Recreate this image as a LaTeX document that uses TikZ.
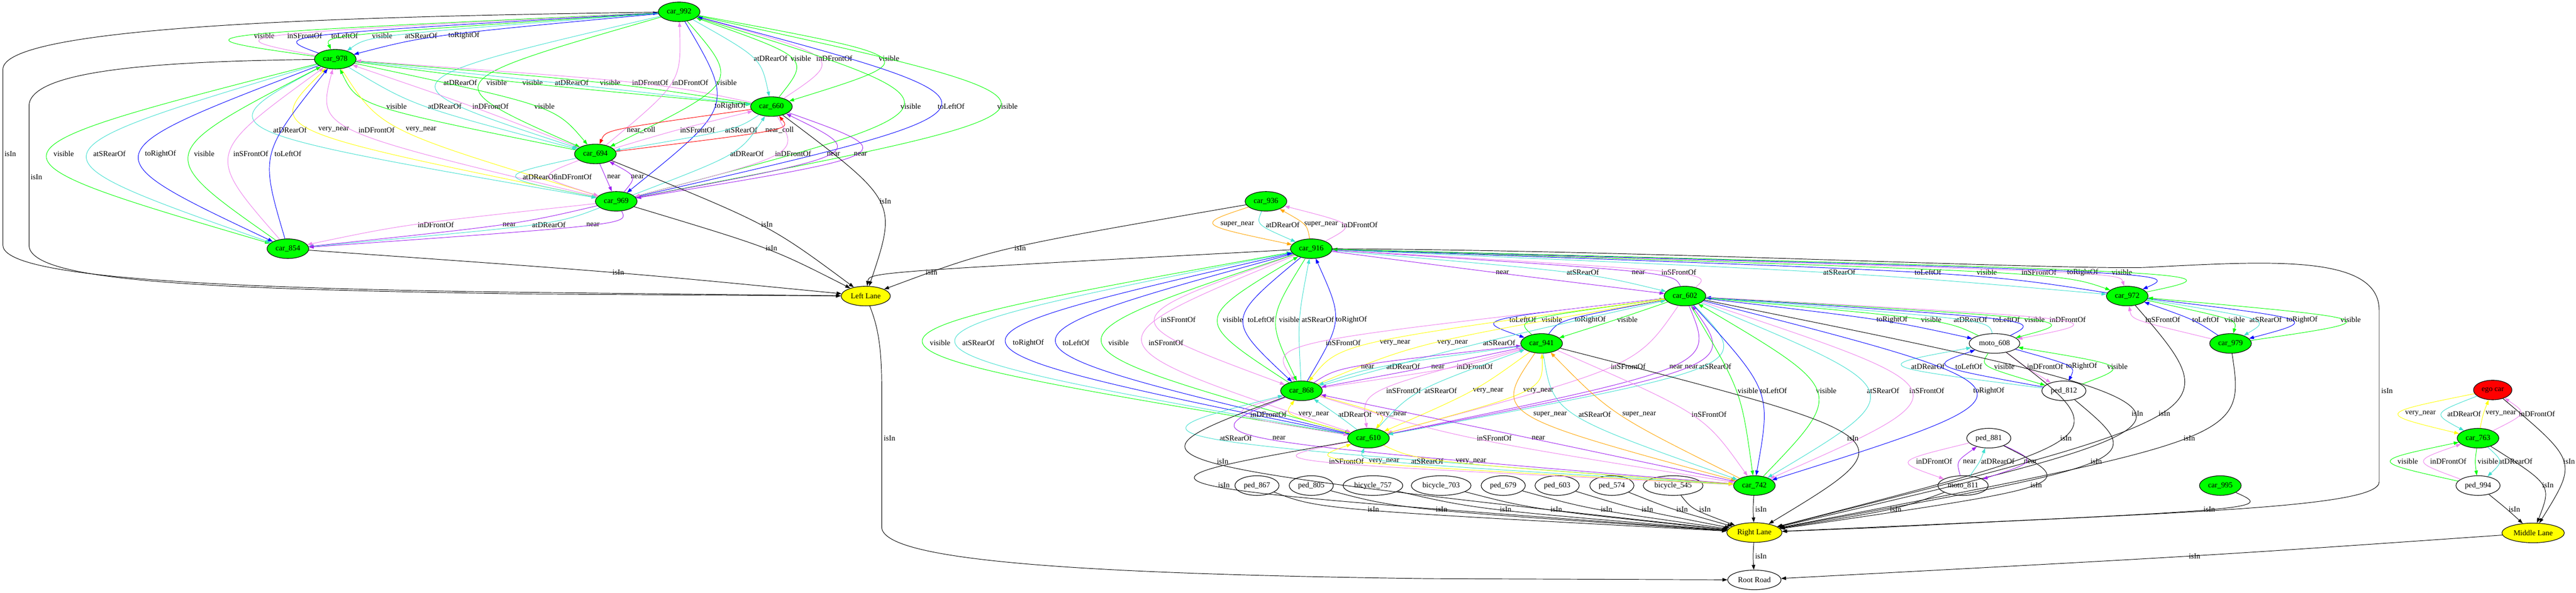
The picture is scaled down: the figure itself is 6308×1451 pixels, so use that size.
\documentclass[tikz,border=0pt]{standalone}
\usepackage{fontspec}
\setmainfont{Liberation Serif}
\usetikzlibrary{shapes.geometric,arrows.meta,calc}
\definecolor{cvis}{RGB}{0,255,0}
\definecolor{cturq}{RGB}{64,224,208}
\definecolor{cblue}{RGB}{0,0,255}
\definecolor{cviol}{RGB}{238,130,238}
\definecolor{cpurp}{RGB}{160,32,240}
\definecolor{cyel}{RGB}{255,255,0}
\definecolor{corng}{RGB}{255,165,0}
\definecolor{cred}{RGB}{255,0,0}
\newcommand\Lvis{visible}
\newcommand\LaDR{atDRearOf}
\newcommand\LaSR{atSRearOf}
\newcommand\LiDF{inDFrontOf}
\newcommand\LiSF{inSFrontOf}
\newcommand\LtLO{toLeftOf}
\newcommand\LtRO{toRightOf}
\newcommand\Lnr{near}
\newcommand\Lvnr{very\_near}
\newcommand\Lsnr{super\_near}
\newcommand\Lncl{near\_coll}
\newcommand\LisIn{isIn}
\newcount\ecnt
\newcommand\Edg[5]{%
  \global\advance\ecnt by 1
  \node[lab] (lb\the\ecnt) at (#4,#5) {\csname L#1\endcsname};
  \coordinate (wp\the\ecnt) at ($(lb\the\ecnt.west)+(-4,0)$);
  \coordinate (cp\the\ecnt) at ($1.3333*(wp\the\ecnt)-0.1667*(#2)-0.1667*(#3)$);
  \draw[rel,r#1] (#2) .. controls (cp\the\ecnt) and (cp\the\ecnt) .. (#3);
}
\tikzset{
  base/.style={ellipse,draw=black,line width=1.4pt,inner xsep=6pt,inner ysep=2pt,minimum height=48pt,font=\fontsize{18.7}{20}\selectfont},
  car/.style={base,fill=cvis},
  lane/.style={base,fill=cyel},
  ego/.style={base,fill=cred},
  obj/.style={base,fill=white},
  lab/.style={inner sep=0pt,font=\fontsize{18.7}{20}\selectfont},
  rel/.style={line width=1.2pt,-{Triangle[length=12pt,width=8.5pt]}},
  rvis/.style={draw=cvis},
  raDR/.style={draw=cturq}, raSR/.style={draw=cturq},
  riDF/.style={draw=cviol}, riSF/.style={draw=cviol},
  rtLO/.style={draw=cblue}, rtRO/.style={draw=cblue},
  rnr/.style={draw=cpurp}, rvnr/.style={draw=cyel}, rsnr/.style={draw=corng},
  rncl/.style={draw=cred}, risIn/.style={draw=black}
}
\begin{document}
\begin{tikzpicture}[x=1pt,y=-1pt]
\useasboundingbox[fill=white] (0,0) rectangle (6308,1451);
% nodes
\node[car] (c992) at (1663,29) {car\_992};
\node[car] (c978) at (821,145) {car\_978};
\node[car] (c660) at (1889,261) {car\_660};
\node[car] (c694) at (1458,377) {car\_694};
\node[car] (c969) at (1509,493) {car\_969};
\node[car] (c854) at (705,609) {car\_854};
\node[lane] (LL) at (2120,725) {Left Lane};
\node[car] (c936) at (3100,493) {car\_936};
\node[car] (c916) at (3211,609) {car\_916};
\node[car] (c602) at (4126,725) {car\_602};
\node[car] (c941) at (3775,841) {car\_941};
\node[car] (c868) at (3187,957) {car\_868};
\node[car] (c610) at (3351,1073) {car\_610};
\node[obj] (p867) at (3078,1189) {ped\_867};
\node[obj] (p805) at (3211,1189) {ped\_805};
\node[obj] (b757) at (3362,1189) {bicycle\_757};
\node[obj] (b703) at (3529,1189) {bicycle\_703};
\node[obj] (p679) at (3681,1189) {ped\_679};
\node[obj] (p603) at (3813,1189) {ped\_603};
\node[obj] (p574) at (3947,1189) {ped\_574};
\node[obj] (b545) at (4097,1189) {bicycle\_545};
\node[car] (c742) at (4296,1189) {car\_742};
\node[lane] (RL) at (4296,1304) {Right Lane};
\node[obj] (RR) at (4296,1420) {Root Road};
\node[car] (c972) at (5209,725) {car\_972};
\node[car] (c979) at (5462,841) {car\_979};
\node[obj] (m608) at (4884,841) {moto\_608};
\node[obj] (p812) at (5054,957) {ped\_812};
\node[obj] (p881) at (4870,1073) {ped\_881};
\node[obj] (m811) at (4807,1189) {moto\_811};
\node[car] (c995) at (5437,1189) {car\_995};
\node[ego] (ego) at (6104,955) {ego car};
\node[car] (c763) at (6068,1073) {car\_763};
\node[obj] (p994) at (6068,1189) {ped\_994};
\node[lane] (ML) at (6203,1305) {Middle Lane};
% left cluster
\Edg{vis}{c978}{c992}{647}{87}
\Edg{iSF}{c978}{c992}{746}{87}
\Edg{tLO}{c978}{c992}{844}{87}
\Edg{vis}{c992}{c978}{936}{87}
\Edg{aSR}{c992}{c978}{1031}{87}
\Edg{tRO}{c992}{c978}{1136}{87}
\Edg{aDR}{c992}{c660}{1887}{143}
\Edg{vis}{c660}{c992}{1961}{143}
\Edg{iDF}{c660}{c992}{2043}{143}
\Edg{vis}{c992}{c660}{2177}{143}
\Edg{aDR}{c992}{c694}{1127}{202}
\Edg{vis}{c992}{c694}{1216}{202}
\Edg{vis}{c978}{c660}{1304}{202}
\Edg{aDR}{c978}{c660}{1400}{202}
\Edg{vis}{c660}{c978}{1494}{202}
\Edg{iDF}{c660}{c978}{1592}{202}
\Edg{iDF}{c694}{c992}{1690}{202}
\Edg{vis}{c992}{c694}{1779}{202}
\Edg{vis}{c694}{c978}{971}{260}
\Edg{aDR}{c978}{c694}{1089}{260}
\Edg{iDF}{c694}{c978}{1201}{260}
\Edg{vis}{c978}{c694}{1333}{260}
\Edg{tRO}{c992}{c969}{1788}{260}
\Edg{vis}{c969}{c992}{2230}{260}
\Edg{tLO}{c969}{c992}{2329}{260}
\Edg{vis}{c992}{c969}{2467}{260}
\Edg{aDR}{c978}{c969}{710}{318}
\Edg{vnr}{c969}{c978}{817}{318}
\Edg{iDF}{c969}{c978}{922}{318}
\Edg{vnr}{c978}{c969}{1031}{318}
\Edg{ncl}{c660}{c694}{1570}{318}
\Edg{iSF}{c694}{c660}{1708}{318}
\Edg{aSR}{c660}{c694}{1815}{318}
\Edg{ncl}{c694}{c660}{1909}{318}
\Edg{vis}{c978}{c854}{156}{377}
\Edg{aSR}{c978}{c854}{268}{377}
\Edg{tRO}{c978}{c854}{393}{377}
\Edg{vis}{c854}{c978}{500}{377}
\Edg{iSF}{c854}{c978}{614}{377}
\Edg{tLO}{c854}{c978}{705}{377}
\Edg{aDR}{c969}{c660}{1829}{377}
\Edg{iDF}{c660}{c969}{1942}{377}
\Edg{nr}{c969}{c660}{2041}{377}
\Edg{nr}{c660}{c969}{2107}{377}
\Edg{aDR}{c694}{c969}{1321}{433}
\Edg{iDF}{c694}{c969}{1405}{433}
\Edg{nr}{c694}{c969}{1503}{433}
\Edg{nr}{c969}{c694}{1561}{433}
\Edg{isIn}{c660}{LL}{2168}{493}
\Edg{iDF}{c969}{c854}{1067}{550}
\Edg{nr}{c969}{c854}{1247}{550}
\Edg{aDR}{c969}{c854}{1344}{550}
\Edg{nr}{c969}{c854}{1452}{550}
\Edg{isIn}{c694}{LL}{1878}{550}
\Edg{isIn}{c969}{LL}{1889}{608}
\Edg{isIn}{c854}{LL}{1514}{667}
\node[lab,anchor=west] (lbA) at (11,377) {\LisIn};
\draw[rel,risIn] (c992) .. controls (900,40) and (7,60) .. (7,170) -- (7,600) .. controls (7,670) and (400,705) .. (1300,716) -- (LL);
\node[lab,anchor=west] (lbB) at (75,433) {\LisIn};
\draw[rel,risIn] (c978) .. controls (400,150) and (71,170) .. (71,260) -- (71,600) .. controls (71,690) and (500,708) .. (1300,720) -- (LL);
% middle
\Edg{isIn}{c936}{LL}{2498}{608}
\Edg{isIn}{c916}{LL}{2281}{667}
\Edg{snr}{c936}{c916}{3030}{550}
\Edg{aDR}{c936}{c916}{3141}{550}
\Edg{snr}{c916}{c936}{3235}{550}
\Edg{iDF}{c916}{c936}{3329}{550}
\Edg{nr}{c916}{c602}{3679}{667}
\Edg{aSR}{c916}{c602}{3876}{667}
\Edg{nr}{c602}{c916}{4012}{667}
\Edg{iSF}{c602}{c916}{4111}{667}
\Edg{aSR}{c916}{c972}{4504}{667}
\Edg{tLO}{c972}{c916}{4721}{667}
\Edg{vis}{c916}{c972}{4865}{667}
\Edg{iSF}{c916}{c972}{4993}{667}
\Edg{tRO}{c916}{c972}{5100}{667}
\Edg{vis}{c972}{c916}{5196}{667}
\Edg{iSF}{c916}{c868}{2885}{783}
\Edg{vis}{c868}{c916}{3019}{783}
\Edg{tLO}{c916}{c868}{3088}{783}
\Edg{vis}{c916}{c868}{3157}{783}
\Edg{aSR}{c868}{c916}{3227}{783}
\Edg{tRO}{c868}{c916}{3309}{783}
\Edg{tLO}{c602}{c941}{3729}{783}
\Edg{vis}{c941}{c602}{3800}{783}
\Edg{tRO}{c941}{c602}{3894}{783}
\Edg{vis}{c602}{c941}{3985}{783}
\Edg{tRO}{c602}{m608}{4633}{783}
\Edg{vis}{m608}{c602}{4729}{783}
\Edg{aDR}{m608}{c602}{4825}{783}
\Edg{tLO}{m608}{c602}{4913}{783}
\Edg{vis}{c602}{m608}{4982}{783}
\Edg{iDF}{c602}{m608}{5063}{783}
\Edg{iSF}{c979}{c972}{5296}{783}
\Edg{tLO}{c979}{c972}{5401}{783}
\Edg{vis}{c972}{c979}{5472}{783}
\Edg{aSR}{c972}{c979}{5548}{783}
\Edg{tRO}{c972}{c979}{5637}{783}
\Edg{vis}{c979}{c972}{5756}{783}
\Edg{vis}{c610}{c916}{2302}{840}
\Edg{aSR}{c610}{c916}{2396}{840}
\Edg{tRO}{c610}{c916}{2518}{840}
\Edg{tLO}{c916}{c610}{2635}{840}
\Edg{vis}{c916}{c610}{2739}{840}
\Edg{iSF}{c916}{c610}{2855}{840}
\Edg{iSF}{c602}{c868}{3289}{840}
\Edg{vnr}{c602}{c868}{3416}{840}
\Edg{vnr}{c868}{c602}{3557}{840}
\Edg{aSR}{c868}{c602}{3671}{840}
\Edg{nr}{c868}{c941}{3349}{898}
\Edg{aDR}{c941}{c868}{3436}{898}
\Edg{nr}{c941}{c868}{3521}{898}
\Edg{iDF}{c868}{c941}{3611}{898}
\Edg{iSF}{c602}{c610}{3987}{898}
\Edg{nr}{c602}{c610}{4104}{898}
\Edg{nr}{c610}{c602}{4142}{898}
\Edg{aSR}{c602}{c610}{4200}{898}
\Edg{aDR}{p812}{m608}{4721}{897}
\Edg{tLO}{p812}{m608}{4821}{897}
\Edg{vis}{m608}{p812}{4908}{897}
\Edg{iDF}{m608}{p812}{5008}{897}
\Edg{tRO}{m608}{p812}{5097}{897}
\Edg{vis}{p812}{m608}{5185}{897}
\Edg{iSF}{c941}{c610}{3437}{957}
\Edg{aSR}{c610}{c941}{3528}{957}
\Edg{vnr}{c941}{c610}{3644}{957}
\Edg{vnr}{c610}{c941}{3767}{957}
\Edg{vis}{c602}{c742}{4280}{957}
\Edg{tLO}{c602}{c742}{4343}{957}
\Edg{vis}{c742}{c602}{4472}{957}
\Edg{aSR}{c602}{c742}{4611}{957}
\Edg{iSF}{c602}{c742}{4718}{957}
\Edg{tRO}{c602}{c742}{4870}{957}
\node[lab,anchor=west] (lbC) at (5831,957) {\LisIn};
\draw[rel,risIn] (c916) .. controls (4000,612) and (5000,660) .. (5250,655) .. controls (5550,640) and (5826,620) .. (5826,760) -- (5826,1180) .. controls (5826,1245) and (5300,1255) .. (4600,1292) -- (RL);
\Edg{iDF}{c868}{c610}{3106}{1015}
\Edg{vnr}{c610}{c868}{3217}{1015}
\Edg{aDR}{c610}{c868}{3318}{1015}
\Edg{vnr}{c868}{c610}{3407}{1015}
\Edg{snr}{c941}{c742}{3796}{1015}
\Edg{aSR}{c941}{c742}{3905}{1015}
\Edg{snr}{c742}{c941}{4014}{1015}
\Edg{iSF}{c941}{c742}{4185}{1015}
\Edg{isIn}{c602}{RL}{5234}{1013}
\Edg{isIn}{c972}{RL}{5300}{1013}
\Edg{vnr}{ego}{c763}{5927}{1013}
\Edg{aDR}{ego}{c763}{6034}{1013}
\Edg{vnr}{c763}{ego}{6124}{1013}
\Edg{iDF}{c763}{ego}{6212}{1013}
\Edg{aSR}{c742}{c868}{3026}{1073}
\Edg{nr}{c868}{c742}{3132}{1073}
\Edg{iSF}{c868}{c742}{3659}{1073}
\Edg{nr}{c742}{c868}{3767}{1073}
\Edg{isIn}{c941}{RL}{4537}{1073}
\Edg{isIn}{m608}{RL}{5059}{1073}
\Edg{isIn}{c979}{RL}{5361}{1073}
\Edg{isIn}{c868}{RL}{2994}{1130}
\Edg{iSF}{c610}{c742}{3297}{1130}
\Edg{vnr}{c742}{c610}{3389}{1130}
\Edg{aSR}{c742}{c610}{3495}{1130}
\Edg{vnr}{c610}{c742}{3602}{1130}
\Edg{iDF}{p881}{m811}{4736}{1130}
\Edg{nr}{m811}{p881}{4823}{1130}
\Edg{aDR}{m811}{p881}{4892}{1130}
\Edg{nr}{p881}{m811}{4972}{1130}
\Edg{isIn}{p812}{RL}{5133}{1130}
\Edg{vis}{p994}{c763}{5896}{1130}
\Edg{iDF}{p994}{c763}{5995}{1130}
\Edg{vis}{c763}{p994}{6092}{1130}
\Edg{aDR}{c763}{p994}{6160}{1130}
\Edg{isIn}{ego}{ML}{6291}{1130}
\Edg{isIn}{c610}{RL}{2997}{1188}
\Edg{isIn}{p881}{RL}{4986}{1188}
\Edg{isIn}{c763}{ML}{6239}{1188}
\Edg{isIn}{p867}{RL}{3363}{1247}
\Edg{isIn}{p805}{RL}{3530}{1247}
\Edg{isIn}{b757}{RL}{3687}{1247}
\Edg{isIn}{b703}{RL}{3811}{1247}
\Edg{isIn}{p679}{RL}{3934}{1247}
\Edg{isIn}{p603}{RL}{4034}{1247}
\Edg{isIn}{p574}{RL}{4119}{1247}
\Edg{isIn}{b545}{RL}{4175}{1247}
\Edg{isIn}{c742}{RL}{4312}{1247}
\Edg{isIn}{m811}{RL}{4642}{1247}
\Edg{isIn}{c995}{RL}{5410}{1247}
\Edg{isIn}{p994}{ML}{6157}{1247}
\Edg{isIn}{RL}{RR}{4312}{1362}
\Edg{isIn}{ML}{RR}{5374}{1362}
\node[lab,anchor=west] (lbD) at (2164,1073) {\LisIn};
\draw[rel,risIn] (LL) .. controls (2150,800) and (2159,850) .. (2159,950) -- (2159,1290) .. controls (2159,1370) and (2600,1405) .. (3500,1417) -- (RR);
\end{tikzpicture}
\end{document}
